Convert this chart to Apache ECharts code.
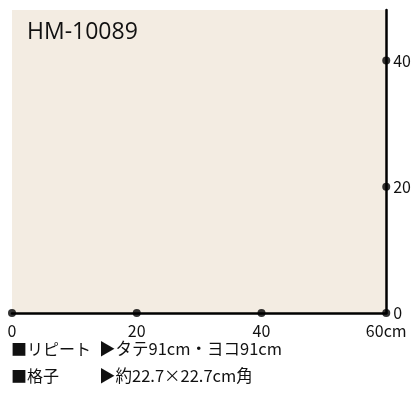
<!DOCTYPE html>
<html><head><meta charset="utf-8">
<script src="https://cdn.jsdelivr.net/npm/echarts@6/dist/echarts.min.js"></script>
<style>html,body{margin:0;padding:0;background:#fff}#c{width:414px;height:397px}</style>
</head><body><div id="c"></div>
<script>
const title = "HM-10089";
const xTicks = [0, 20, 40, 60];
const yTicks = [0, 20, 40];
const xMax = 60;
const yMax = 48;
const infoLabels = ["■リピート", "■格子"];
const infoValues = ["▶タテ91cm・ヨコ91cm", "▶約22.7×22.7cm角"];

const chart = echarts.init(document.getElementById('c'), null, {renderer: 'canvas'});
const font = '"Noto Sans CJK JP", "Noto Sans", sans-serif';
const xDots = xTicks.map(v => [v, 0]);
const yDots = yTicks.filter(v => v > 0).map(v => [xMax, v]);

const graphics = [{
  type: 'text', x: 27, y: 32,
  style: {text: title, font: '23px "Open Sans", sans-serif', fill: '#111', verticalAlign: 'middle'}
}];
infoLabels.forEach((t, i) => {
  graphics.push({type: 'text', x: 11, y: 349 + i * 27,
    style: {text: t, font: '16px ' + font, fill: '#111', verticalAlign: 'middle'}});
  graphics.push({type: 'text', x: 99, y: 349 + i * 27,
    style: {text: infoValues[i], font: '16.5px ' + font, fill: '#111', verticalAlign: 'middle'}});
});

chart.setOption({
  animation: false,
  grid: {left: 12, right: 24, top: 10, bottom: 84, show: true,
    backgroundColor: '#f3ece2', borderWidth: 0},
  xAxis: {type: 'value', min: 0, max: xMax, interval: 20,
    axisLine: {lineStyle: {color: '#000', width: 2.5}},
    axisTick: {show: false}, splitLine: {show: false},
    axisLabel: {color: '#111', fontSize: 16, fontFamily: font, margin: 10,
      formatter: v => v === xMax ? v + 'cm' : String(v)}},
  yAxis: {type: 'value', position: 'right', min: 0, max: yMax, interval: 20,
    axisLine: {show: true, onZero: false, lineStyle: {color: '#000', width: 2.5}},
    axisTick: {show: false}, splitLine: {show: false},
    axisLabel: {color: '#111', fontSize: 16, fontFamily: font, margin: 7,
      formatter: v => yTicks.includes(v) ? String(v) : ''}},
  series: [{
    type: 'scatter', data: xDots.concat(yDots), symbolSize: 8,
    itemStyle: {color: '#000'}, clip: false
  }],
  graphic: graphics
});
</script></body></html>
